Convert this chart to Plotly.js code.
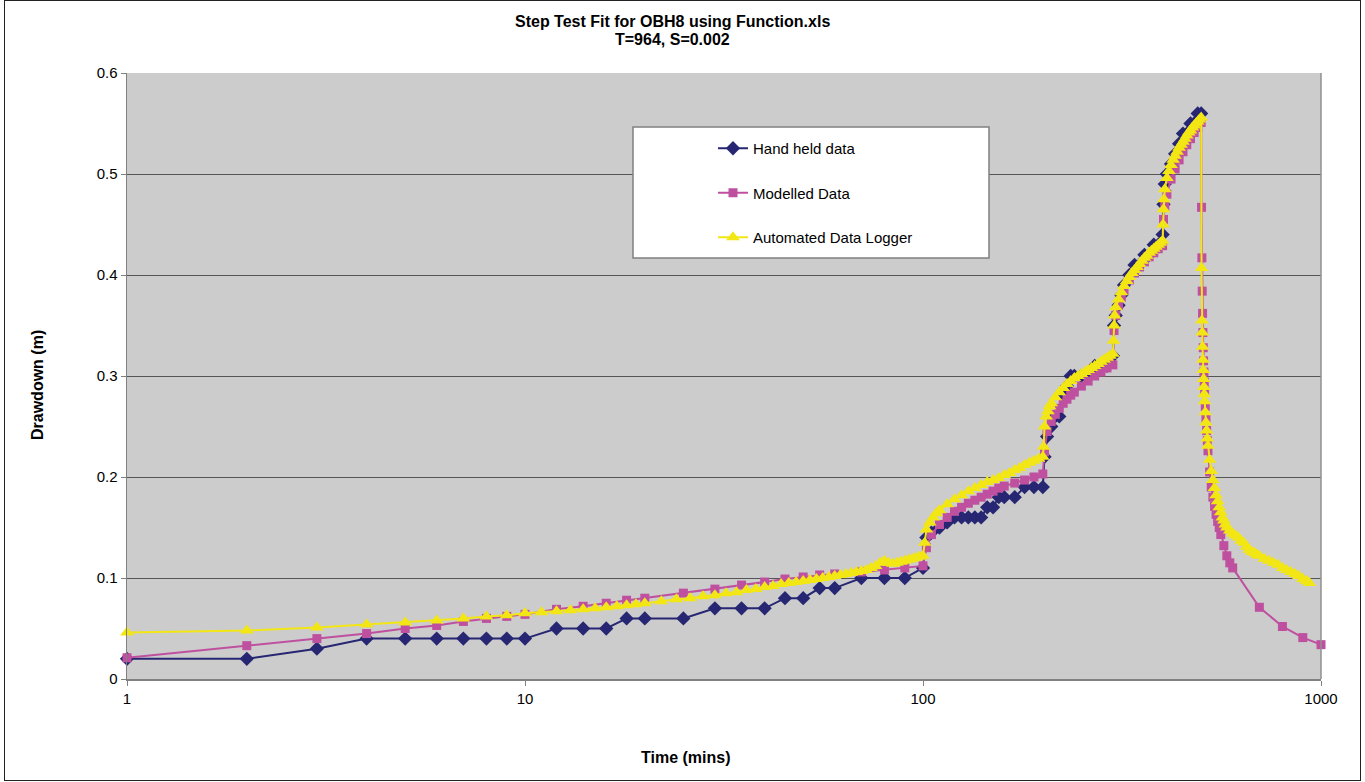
<!DOCTYPE html>
<html>
<head>
<meta charset="utf-8">
<script src="https://cdn.plot.ly/plotly-3.0.1.min.js"></script>
<style>
html,body{margin:0;padding:0;background:#fff;}
#wrap{position:absolute;left:0;top:0;width:1365px;height:782px;}
#frame{position:absolute;left:4px;top:0px;width:1357px;height:781px;border:1.5px solid #222;box-sizing:border-box;pointer-events:none;}
#chart{position:absolute;left:0;top:0;width:1365px;height:782px;}
</style>
</head>
<body>
<div id="wrap"><div id="chart"></div><div id="frame"></div></div>
<script>
// Hand held data
const handTime = [1,2,3,4,5,6,7,8,9,10,12,14,16,18,20,25,30,35,40,45,50,55,60,70,80,90,100,
  102,105,110,115,120,125,130,135,140,145,150,155,160,170,180,190,200,
  202,205,210,215,220,225,230,235,240,250,260,270,280,290,300,
  302,305,310,315,320,330,340,350,360,370,380,390,400,
  402,405,410,420,430,440,450,460,470,480,490,500];
const handDD = [.02,.02,.03,.04,.04,.04,.04,.04,.04,.04,.05,.05,.05,.06,.06,.06,.07,.07,.07,.08,.08,.09,.09,.10,.10,.10,.11,
  .14,.145,.15,.155,.16,.16,.16,.16,.16,.17,.17,.18,.18,.18,.19,.19,.19,
  .22,.24,.25,.26,.26,.28,.29,.30,.30,.30,.30,.31,.31,.31,.32,
  .35,.36,.37,.38,.39,.40,.41,.41,.42,.42,.43,.43,.44,
  .47,.49,.50,.51,.52,.53,.54,.54,.55,.55,.56,.56];

// Modelled data
const modTime = [1,2,3,4,5,6,7,8,9,10,12,14,16,18,20,25,30,35,40,45,50,55,60,70,80,90,100,
  102,105,110,115,120,125,130,135,140,145,150,155,160,170,180,190,200,
  202,205,210,215,220,225,230,235,240,250,260,270,280,290,300,
  302,305,310,315,320,330,340,350,360,370,380,390,400,
  402,405,410,420,430,440,450,460,470,480,490,500,
  501,502,503,504,505,506,507,508,509,510,512,514,516,518,520,525,530,535,540,545,550,555,560,570,580,590,600,700,800,900,1000];
const modDD = [.021,.033,.040,.045,.050,.053,.057,.060,.062,.064,.069,.072,.075,.078,.080,.085,.089,.093,.096,.099,.101,.103,.104,.106,.108,.110,.112,
  .130,.143,.153,.160,.166,.170,.174,.177,.180,.183,.186,.189,.191,.194,.197,.200,.203,
  .225,.245,.255,.262,.268,.273,.277,.281,.284,.290,.295,.300,.304,.308,.311,
  .345,.360,.370,.378,.385,.395,.402,.408,.413,.418,.422,.426,.429,
  .455,.468,.480,.495,.505,.514,.522,.529,.535,.541,.546,.551,
  .467,.417,.384,.362,.343,.328,.315,.304,.294,.285,.270,.257,.246,.236,.226,.205,.190,.180,.171,.163,.156,.150,.143,.132,.122,.115,.110,.071,.052,.041,.034];

// Automated data logger
const logTime = [1,2,3,4,5,6,7,8,9,10,11,12,13,14,15,16,17,18,19,20,
  22,24,26,28,30,32,34,36,38,40,42,44,46,48,50,52,54,56,58,60,62,64,66,68,70,72,74,76,78,80,82,84,86,88,90,92,94,96,98,100,
  101,102,104,106,108,110,115,120,125,130,135,140,145,150,155,160,165,170,175,180,185,190,195,200,
  201,202,204,206,208,210,215,220,225,230,235,240,245,250,255,260,265,270,275,280,285,290,295,300,
  301,302,303,305,310,315,320,325,330,335,340,345,350,355,360,365,370,375,380,385,390,395,400,
  401,402,403,405,410,415,420,425,430,435,440,445,450,455,460,465,470,475,480,485,490,495,500,
  501,502,503,504,505,506,507,508,509,510,512,514,516,518,520,525,530,535,540,545,550,555,560,565,570,575,580,590,600,
  610,620,630,640,650,660,670,680,690,700,720,740,760,780,800,820,840,860,880,900,920,935];
const logDD = [.046,.048,.051,.054,.056,.058,.060,.062,.063,.065,.066,.067,.068,.069,.070,.071,.072,.073,.074,.075,
  .077,.079,.080,.082,.083,.085,.086,.088,.089,.091,.092,.094,.095,.096,.097,.098,.099,.100,.101,.102,.103,.104,.105,.106,.107,.108,.110,.112,.115,.117,.115,.114,.115,.116,.117,.118,.119,.120,.121,.122,
  .135,.148,.155,.160,.164,.167,.173,.178,.182,.186,.189,.192,.195,.197,.199,.202,.204,.207,.209,.212,.214,.216,.218,.220,
  .230,.250,.260,.265,.270,.273,.279,.284,.288,.292,.295,.298,.300,.302,.304,.306,.308,.310,.312,.314,.316,.318,.320,.322,
  .335,.350,.360,.368,.376,.383,.389,.394,.398,.402,.405,.408,.411,.414,.417,.419,.422,.424,.426,.428,.430,.432,.434,
  .450,.465,.475,.485,.496,.503,.509,.514,.518,.522,.526,.529,.532,.535,.538,.541,.543,.546,.548,.550,.552,.554,.556,
  .407,.355,.343,.329,.316,.306,.297,.289,.282,.275,.264,.254,.246,.238,.231,.217,.206,.197,.189,.182,.176,.170,.165,.160,.157,.153,.150,.147,.144,
  .142,.140,.137,.135,.131,.128,.126,.125,.123,.122,.119,.117,.115,.113,.110,.108,.106,.104,.102,.099,.097,.095];

const xTicks = [1,10,100,1000];
const xTickText = ['1','10','100','1000'];
const yTicks = [0,0.1,0.2,0.3,0.4,0.5,0.6];
const yTickText = ['0','0.1','0.2','0.3','0.4','0.5','0.6'];

const titleLine1 = 'Step Test Fit for OBH8 using Function.xls';
const titleLine2 = 'T=964, S=0.002';
const xTitle = 'Time (mins)';
const yTitle = 'Drawdown (m)';

const FONT = 'Arial, "Liberation Sans", sans-serif';
const L = 127, R = 1321, T = 73, B = 679;
const px = v => (v - L) / (R - L);
const py = v => (B - v) / (B - T);

const traces = [
  {x: handTime, y: handDD, name: 'Hand held data', type: 'scatter', mode: 'lines+markers',
   line: {color: '#262673', width: 2}, marker: {symbol: 'diamond', size: 11, color: '#262673'},
   cliponaxis: false, legendgroup: 'a'},
  {x: modTime, y: modDD, name: 'Modelled Data', type: 'scatter', mode: 'lines+markers',
   line: {color: '#bf50a0', width: 2}, marker: {symbol: 'square', size: 9, color: '#bf50a0'},
   cliponaxis: false, legendgroup: 'b'},
  {x: logTime, y: logDD, name: 'Automated Data Logger', type: 'scatter', mode: 'lines+markers',
   line: {color: '#f2e614', width: 2}, marker: {symbol: 'triangle-up', size: 12, color: '#f2e614'},
   cliponaxis: false, legendgroup: 'c'}
];

const layout = {
  width: 1365, height: 782,
  margin: {l: L, r: 1365 - R, t: T, b: 782 - B},
  paper_bgcolor: '#ffffff',
  plot_bgcolor: '#cccccc',
  font: {family: FONT, color: '#000', size: 15},
  xaxis: {type: 'log', range: [0, 3], tickmode: 'array', tickvals: xTicks, ticktext: xTickText,
          showgrid: false, zeroline: false, showline: true, linecolor: '#808080', linewidth: 1.5,
          ticks: 'outside', ticklen: 5, tickcolor: '#808080', tickfont: {size: 15}},
  yaxis: {range: [0, 0.6], tickmode: 'array', tickvals: yTicks, ticktext: yTickText,
          showgrid: true, gridcolor: '#555555', gridwidth: 1, zeroline: false,
          showline: true, linecolor: '#808080', linewidth: 1.5,
          ticks: 'outside', ticklen: 5, tickcolor: '#808080', tickfont: {size: 15}},
  annotations: [
    {text: '<b>' + titleLine1 + '</b>', xref: 'paper', yref: 'paper', x: px(672), y: py(22),
     xanchor: 'center', yanchor: 'middle', showarrow: false, font: {size: 16, family: FONT}},
    {text: '<b>' + titleLine2 + '</b>', xref: 'paper', yref: 'paper', x: px(672), y: py(40),
     xanchor: 'center', yanchor: 'middle', showarrow: false, font: {size: 16, family: FONT}},
    {text: '<b>' + xTitle + '</b>', xref: 'paper', yref: 'paper', x: px(686), y: py(757),
     xanchor: 'center', yanchor: 'middle', showarrow: false, font: {size: 16, family: FONT}},
    {text: '<b>' + yTitle + '</b>', xref: 'paper', yref: 'paper', x: px(37), y: py(385),
     xanchor: 'center', yanchor: 'middle', showarrow: false, textangle: -90, font: {size: 16, family: FONT}}
  ],
  shapes: [
    {type: 'rect', xref: 'paper', yref: 'paper', layer: 'above',
     x0: px(633), x1: px(989), y0: py(258), y1: py(127),
     fillcolor: '#ffffff', line: {color: '#808080', width: 1.5}},
    {type: 'line', xref: 'paper', yref: 'paper', layer: 'above', x0: 1, x1: 1, y0: 0, y1: 1,
     line: {color: '#909090', width: 1.5}}
  ],
  showlegend: true,
  legend: {x: px(713), y: py(132), xanchor: 'left', yanchor: 'top',
           bgcolor: 'rgba(0,0,0,0)', borderwidth: 0, traceorder: 'grouped', tracegroupgap: 22,
           font: {size: 15, family: FONT}}
};

Plotly.newPlot('chart', traces, layout, {displayModeBar: false, staticPlot: true});
</script>
</body>
</html>
